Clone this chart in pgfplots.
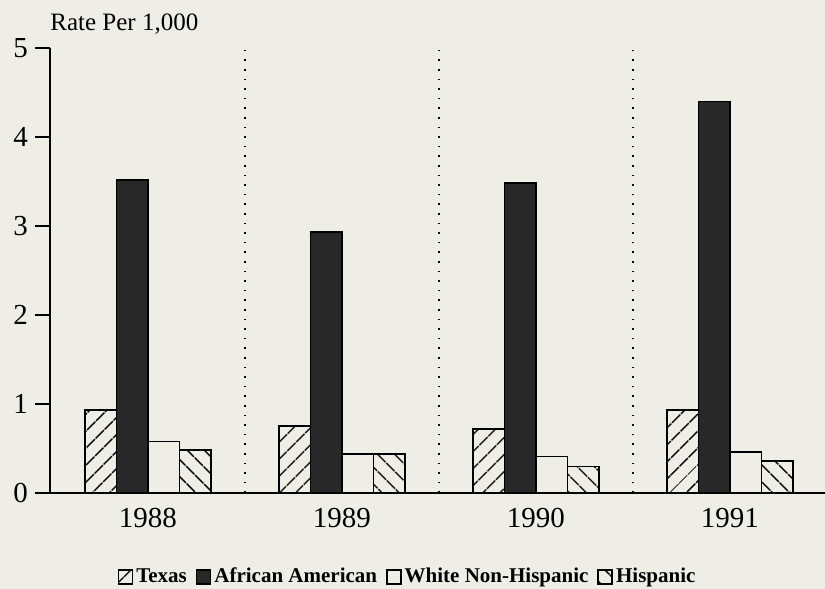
\documentclass[border=0pt]{standalone}
\usepackage{pgfplots}
\pgfplotsset{compat=1.18}
\usepackage{fontspec}
\setmainfont{Liberation Serif}
\usetikzlibrary{patterns.meta}
\definecolor{paper}{RGB}{238,237,230}
\definecolor{dark}{RGB}{40,40,40}
\begin{document}
\begin{tikzpicture}
\path[use as bounding box, fill=paper] (-25pt,-48pt) rectangle (387.5pt,246.5pt);
\begin{axis}[
  at={(0pt,0pt)}, anchor=south west,
  scale only axis, width=387.5pt, height=222.5pt,
  xmin=-0.505, xmax=3.49, ymin=0, ymax=5,
  axis lines=left, axis line style={-, line width=0.9pt},
  tick align=outside, major tick length=7.5pt,
  ytick={0,1,2,3,4,5}, xtick={0,1,2,3}, xticklabels={1988,1989,1990,1991},
  x tick style={draw=none}, y tick style={line width=0.9pt, black},
  tick label style={font=\fontsize{14.5}{16}\selectfont},
  xticklabel style={yshift=3.5pt},
  /pgf/number format/assume math mode=true,
  ybar, bar width=0.162,
  legend image code/.code={\draw[#1, line width=0.8pt] (0pt,-3.5pt) rectangle (7pt,3.5pt);},
  legend columns=4,
  legend style={at={(0.462,-0.189)}, anchor=center, draw=none, fill=none,
    font=\bfseries\fontsize{10.5}{12}\selectfont, inner sep=0pt,
    /tikz/every even column/.append style={column sep=3pt},
    nodes={inner xsep=1.5pt}},
]
\addplot[bar shift=-0.243, draw=black, line width=0.8pt,
  pattern={Lines[angle=45,distance=6.5pt,line width=0.8pt]}]
  coordinates {(0,0.93) (1,0.75) (2,0.72) (3,0.93)};
\addlegendentry{Texas}
\addplot[bar shift=-0.081, draw=black, line width=0.8pt, fill=dark]
  coordinates {(0,3.52) (1,2.93) (2,3.48) (3,4.40)};
\addlegendentry{African American}
\addplot[bar shift=0.081, draw=black, line width=0.8pt, fill=paper]
  coordinates {(0,0.58) (1,0.44) (2,0.41) (3,0.46)};
\addlegendentry{White Non-Hispanic}
\addplot[bar shift=0.243, draw=black, line width=0.8pt,
  pattern={Lines[angle=-45,distance=6.5pt,line width=0.8pt]}]
  coordinates {(0,0.48) (1,0.44) (2,0.30) (3,0.36)};
\addlegendentry{Hispanic}
\draw[line width=0.8pt, dash pattern=on 0.8pt off 4pt] (axis cs:0.5,0) -- (axis cs:0.5,5);
\draw[line width=0.8pt, dash pattern=on 0.8pt off 4pt] (axis cs:1.5,0) -- (axis cs:1.5,5);
\draw[line width=0.8pt, dash pattern=on 0.8pt off 4pt] (axis cs:2.5,0) -- (axis cs:2.5,5);
\end{axis}
\node[anchor=base west, font=\fontsize{12.5}{14}\selectfont, inner sep=0pt] at (0pt,231pt) {Rate Per 1,000};
\end{tikzpicture}
\end{document}
